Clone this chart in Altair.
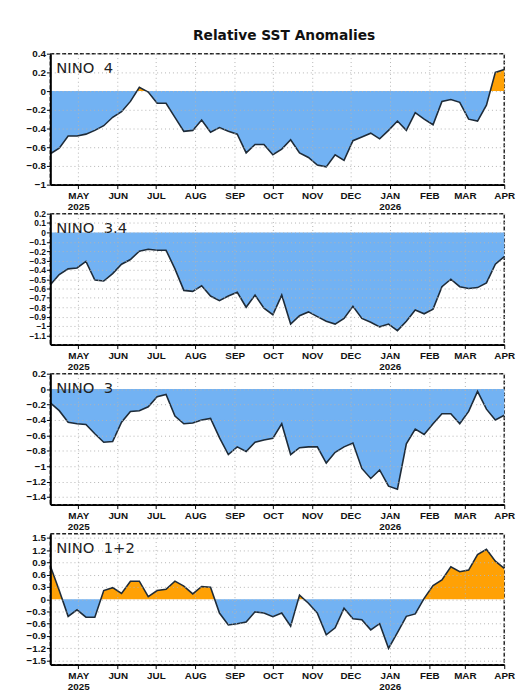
import altair as alt
import pandas as pd

# ---------------- data (weekly, centred on Wednesdays) ----------------
week_start = "2025-04-09"
n_weeks = 52

nino4 = [-0.67, -0.61, -0.48, -0.48, -0.46, -0.42, -0.37, -0.28, -0.22, -0.11,
         0.04, -0.01, -0.13, -0.13, -0.28, -0.43, -0.42, -0.31, -0.44, -0.39,
         -0.43, -0.46, -0.66, -0.57, -0.57, -0.68, -0.62, -0.52, -0.66, -0.71,
         -0.79, -0.81, -0.68, -0.74, -0.53, -0.49, -0.45, -0.51, -0.42, -0.32,
         -0.42, -0.23, -0.30, -0.36, -0.11, -0.09, -0.12, -0.30, -0.32, -0.15,
         0.20, 0.23]

nino34 = [-0.56, -0.45, -0.39, -0.38, -0.31, -0.51, -0.52, -0.44, -0.34, -0.29,
          -0.20, -0.18, -0.19, -0.19, -0.39, -0.62, -0.63, -0.57, -0.68, -0.73,
          -0.68, -0.64, -0.80, -0.67, -0.81, -0.88, -0.67, -0.98, -0.89, -0.85,
          -0.90, -0.95, -0.98, -0.92, -0.79, -0.92, -0.96, -1.01, -0.98, -1.05,
          -0.95, -0.83, -0.87, -0.82, -0.58, -0.50, -0.58, -0.60, -0.59, -0.54,
          -0.34, -0.26]

nino3 = [-0.18, -0.28, -0.43, -0.45, -0.46, -0.58, -0.69, -0.68, -0.43, -0.29,
         -0.28, -0.23, -0.10, -0.07, -0.35, -0.45, -0.44, -0.40, -0.38, -0.63,
         -0.85, -0.75, -0.81, -0.69, -0.66, -0.64, -0.45, -0.85, -0.76, -0.75,
         -0.75, -0.96, -0.82, -0.75, -0.70, -1.03, -1.16, -1.05, -1.26, -1.30,
         -0.71, -0.52, -0.59, -0.45, -0.32, -0.32, -0.45, -0.29, -0.03, -0.26,
         -0.40, -0.34]

nino12 = [0.81, 0.21, -0.42, -0.26, -0.44, -0.44, 0.21, 0.28, 0.14, 0.44,
          0.44, 0.06, 0.21, 0.24, 0.44, 0.32, 0.13, 0.31, 0.29, -0.34,
          -0.63, -0.60, -0.56, -0.31, -0.34, -0.43, -0.34, -0.66, 0.10, -0.10,
          -0.34, -0.87, -0.70, -0.22, -0.48, -0.50, -0.75, -0.60, -1.20, -0.82,
          -0.42, -0.36, 0.02, 0.33, 0.47, 0.79, 0.67, 0.71, 1.09, 1.22,
          0.93, 0.75]

panel_names = ["NINO\u00a0 4", "NINO\u00a0 3.4", "NINO\u00a0 3", "NINO\u00a0 1+2"]
panel_series = [nino4, nino34, nino3, nino12]
panel_domains = [[-1.0, 0.4], [-1.2, 0.2], [-1.5, 0.2], [-1.6, 1.6]]
panel_ticks = [
    [0.4, 0.2, 0, -0.2, -0.4, -0.6, -0.8, -1],
    [0.2, 0.1, 0, -0.1, -0.2, -0.3, -0.4, -0.5, -0.6, -0.7, -0.8, -0.9, -1, -1.1],
    [0.2, 0, -0.2, -0.4, -0.6, -0.8, -1, -1.2, -1.4],
    [1.5, 1.2, 0.9, 0.6, 0.3, 0, -0.3, -0.6, -0.9, -1.2, -1.5],
]
panel_label_sizes = [10, 8.5, 10, 10]
month_ticks = ["2025-05-01", "2025-06-01", "2025-07-01", "2025-08-01", "2025-09-01",
               "2025-10-01", "2025-11-01", "2025-12-01", "2026-01-01", "2026-02-01",
               "2026-03-01", "2026-04-01"]
title_text = "Relative SST Anomalies"

# ---------------- helpers ----------------
def ms(ts):
    return int(pd.Timestamp(ts).value // 10**6)

weeks = pd.date_range(week_start, periods=n_weeks, freq="7D")
t_ms = [ms(w) for w in weeks]
tick_ms = [ms(m) for m in month_ticks]
x_domain = [t_ms[0], t_ms[-1]]

BLUE = "#72b2f3"
ORANGE = "#ffa105"
LINE = "#1e2b38"
FONT = "Liberation Sans"
TFONT = "DejaVu Sans"

x_label_expr = (
    "utcFormat(datum.value, '%m') == '05' ? ['MAY', '2025'] : "
    "utcFormat(datum.value, '%m') == '01' ? ['JAN', '2026'] : "
    "upper(utcFormat(datum.value, '%b'))"
)


def fill_frame(values):
    """Line vertices plus the points where each segment meets zero, so the
    fills change colour exactly where the line crosses zero."""
    rows = []
    for i, (t, v) in enumerate(zip(t_ms, values)):
        if i > 0:
            t0, v0 = t_ms[i - 1], values[i - 1]
            if (v0 < 0 < v) or (v0 > 0 > v):
                tz = t0 + (t - t0) * (0 - v0) / (v - v0)
                rows.append({"t": tz, "v": 0.0})
        rows.append({"t": t, "v": v})
    df = pd.DataFrame(rows)
    df["pos"] = df["v"].clip(lower=0)
    df["neg"] = df["v"].clip(upper=0)
    return df


def panel(name, values, domain, ticks, lsize):
    raw = pd.DataFrame({"t": t_ms, "v": values})
    fdf = fill_frame(values)

    x = alt.X(
        "t:T",
        scale=alt.Scale(type="utc", domain=x_domain, nice=False),
        axis=alt.Axis(
            values=tick_ms, labelExpr=x_label_expr, title=None, grid=True,
            gridColor="#b4b4b4", gridDash=[1, 3], gridWidth=1,
            domainColor="black", domainWidth=2, tickColor="black", tickSize=4,
            labelFontSize=10, labelFontWeight="bold", labelFont=FONT,
            labelColor="#111", labelPadding=2, labelLineHeight=11,
            labelBaseline="top", labelFlush=False, labelBound=False,
            labelOverlap=False, zindex=1,
        ),
    )
    yscale = alt.Scale(domain=domain, nice=False, zero=False)
    yaxis = alt.Axis(
        values=ticks, format="~g", title=None, grid=True,
        gridColor="#b4b4b4", gridDash=[1, 3], gridWidth=1,
        domainColor="black", domainWidth=2, tickColor="black", tickSize=4,
        labelFontSize=lsize, labelFontWeight="bold", labelFont=FONT,
        labelColor="#111", labelPadding=1, labelOverlap=False,
        labelFlush=False, labelBound=False, zindex=1,
    )

    pos = alt.Chart(fdf).mark_area(color=ORANGE, opacity=1).encode(
        x=x, y=alt.Y("pos:Q", scale=yscale, axis=yaxis), y2=alt.datum(0)
    )
    neg = alt.Chart(fdf).mark_area(color=BLUE, opacity=1).encode(
        x=x, y=alt.Y("neg:Q", scale=yscale, axis=yaxis), y2=alt.datum(0)
    )
    line = alt.Chart(raw).mark_line(color=LINE, strokeWidth=1.6).encode(
        x=x, y=alt.Y("v:Q", scale=yscale, axis=yaxis)
    )
    label = alt.Chart(pd.DataFrame({"name": [name]})).mark_text(
        align="left", baseline="top", font=TFONT, fontSize=15, color="#222"
    ).encode(text="name:N", x=alt.value(6), y=alt.value(8))

    return alt.layer(pos, neg, line, label).properties(width=461, height=133)


charts = [panel(n, s, d, tk, ls) for n, s, d, tk, ls in
          zip(panel_names, panel_series, panel_domains, panel_ticks,
              panel_label_sizes)]

chart = alt.vconcat(*charts, spacing=29.5, bounds="flush").resolve_scale(
    y="independent"
).properties(
    title=alt.TitleParams(title_text, fontSize=14, font=TFONT, fontWeight="bold",
                          anchor="middle", color="#111", offset=5, dx=14),
    padding={"left": 17, "top": 16, "right": 4, "bottom": 2},
).configure_view(
    stroke="#222", strokeDash=[4, 2], strokeWidth=1.5
)

chart.save("out.html", embed_options={"renderer": "svg", "actions": False})
